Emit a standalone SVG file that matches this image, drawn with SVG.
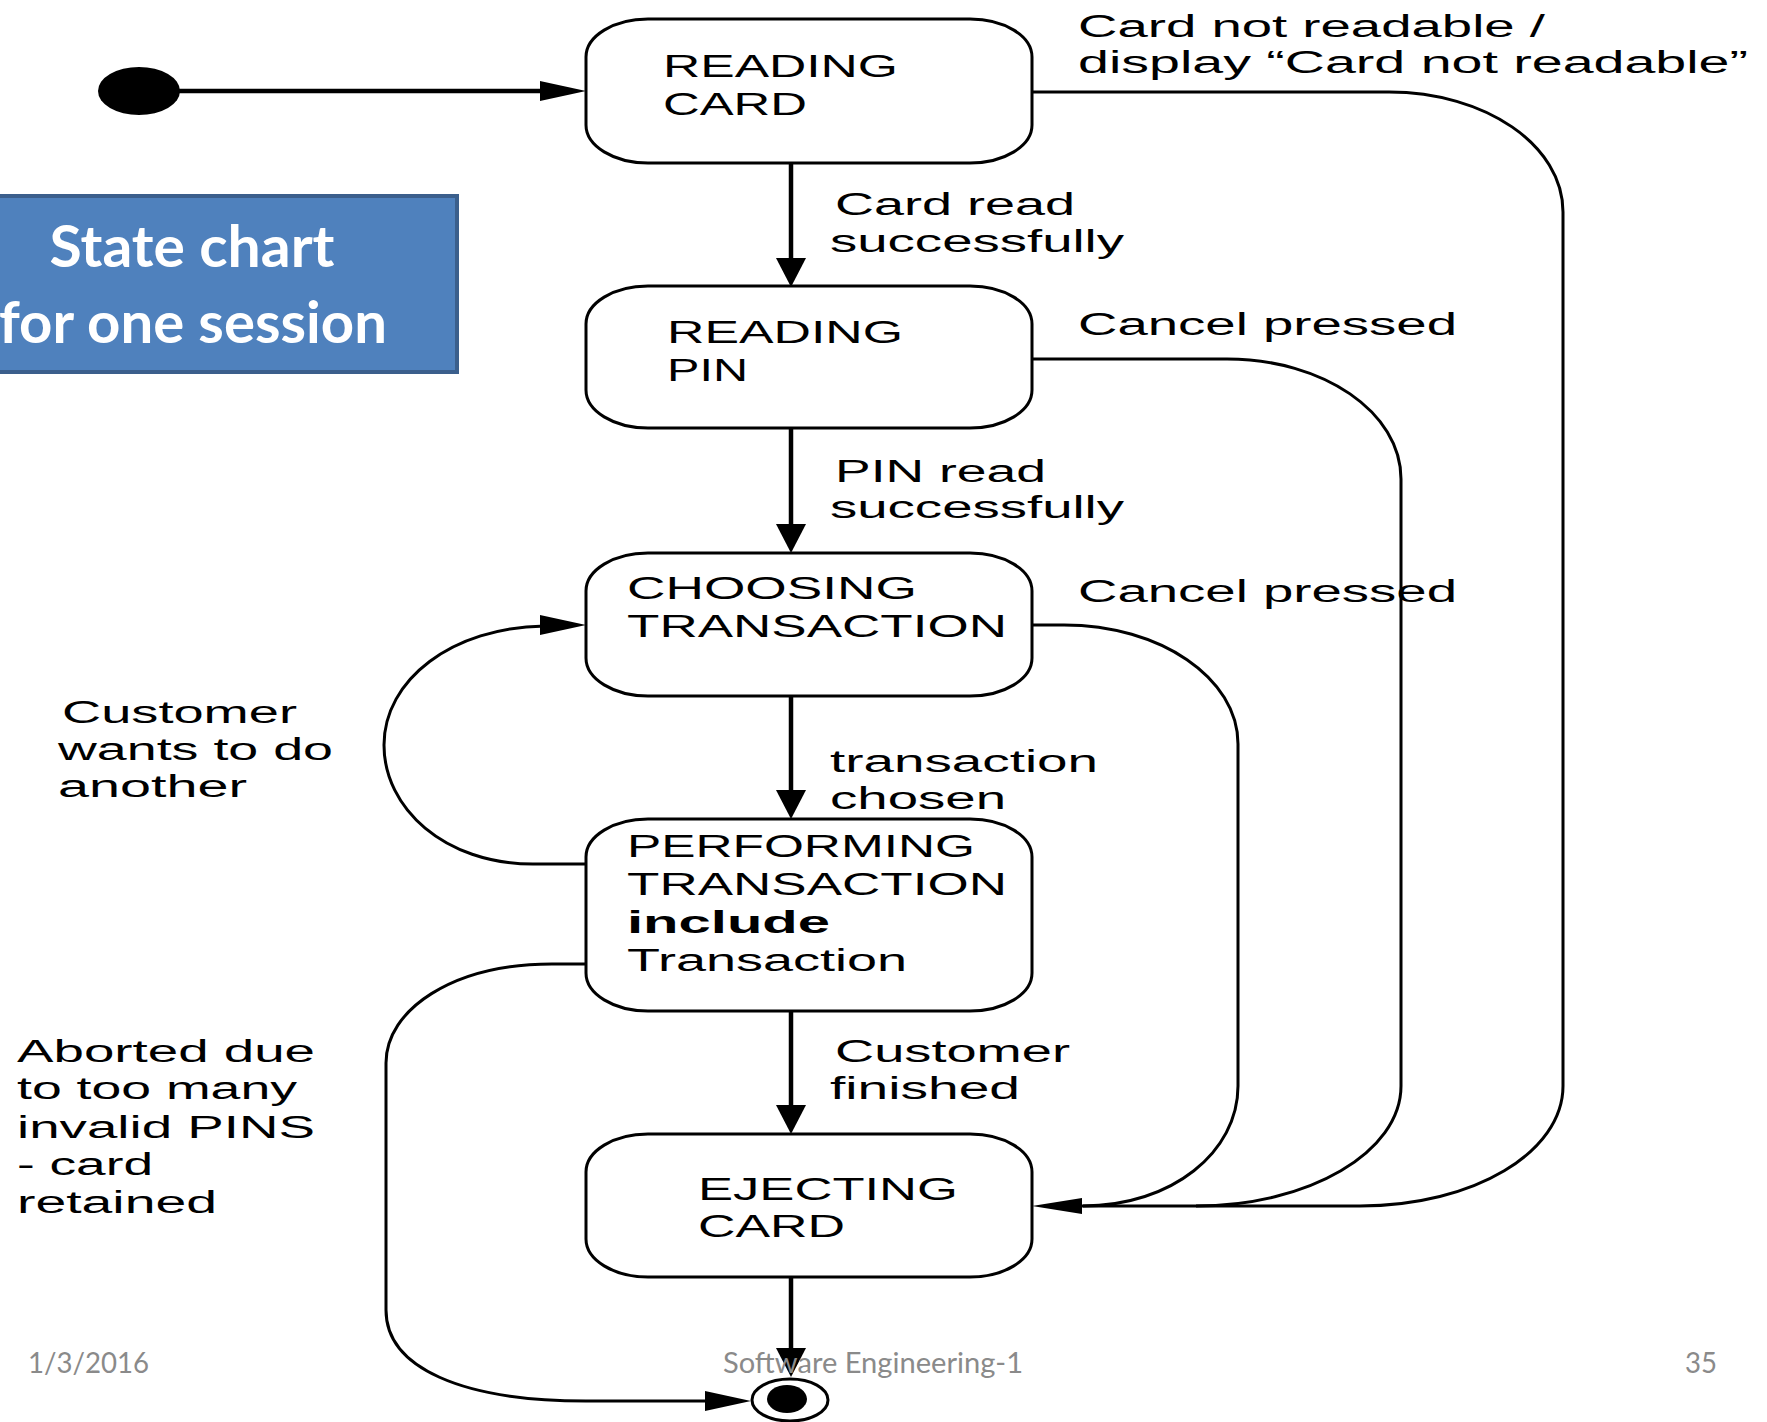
<svg xmlns="http://www.w3.org/2000/svg" xmlns:xlink="http://www.w3.org/1999/xlink" width="1767" height="1422" viewBox="0 0 1767 1422">
  <style>
    .state { fill: #ffffff; stroke: #000000; stroke-width: 3; }
    .name { font-family: "Liberation Sans", Arial, sans-serif; font-size: 31px; fill: #000000; }
    .bold { font-weight: bold; }
    .lbl { font-family: "Liberation Sans", Arial, sans-serif; font-size: 31px; fill: #000000; }
    .edge { fill: none; stroke: #000000; stroke-width: 3; }
    .trunk { fill: none; stroke: #000000; stroke-width: 4.5; }
    .head { fill: #000000; stroke: none; }
    .title { font-family: Lato, "Open Sans", sans-serif; font-weight: bold; font-size: 58px; fill: #ffffff; }
    .foot { font-family: Lato, "Open Sans", sans-serif; font-size: 28px; fill: #8a8a8a; }
  </style>
  <defs>
    <!-- arrowheads, tip at the origin -->
    <path id="headDown" d="M-15,-29 L15,-29 L0,0 Z"/>
    <path id="headRight" d="M-46,-10 L-46,10 L0,0 Z"/>
    <path id="headLeft" d="M50,-8 L50,8 L0,0 Z"/>
  </defs>

  <rect width="1767" height="1422" fill="#ffffff"/>

  <!-- title banner -->
  <g id="banner">
    <rect x="-10" y="196" width="467" height="176" fill="#4f81bd" stroke="#3b5f8c" stroke-width="4"/>
    <text class="title" x="192" y="267" text-anchor="middle" textLength="285" lengthAdjust="spacingAndGlyphs">State chart</text>
    <text class="title" x="193" y="343" text-anchor="middle" textLength="388" lengthAdjust="spacingAndGlyphs">for one session</text>
  </g>

  <!-- transitions -->
  <g id="connectors">
    <!-- start -> READING CARD -->
    <line class="trunk" x1="175" y1="91" x2="545" y2="91" stroke-width="3.5"/>
    <use href="#headRight" class="head" x="586" y="91"/>

    <!-- main vertical chain -->
    <line class="trunk" x1="791" y1="163" x2="791" y2="262"/>
    <use href="#headDown" class="head" x="791" y="287"/>
    <line class="trunk" x1="791" y1="428" x2="791" y2="528"/>
    <use href="#headDown" class="head" x="791" y="553"/>
    <line class="trunk" x1="791" y1="696" x2="791" y2="794"/>
    <use href="#headDown" class="head" x="791" y="819"/>
    <line class="trunk" x1="791" y1="1011" x2="791" y2="1109"/>
    <use href="#headDown" class="head" x="791" y="1134"/>
    <line class="trunk" x1="791" y1="1277" x2="791" y2="1352"/>
    <use href="#headDown" class="head" x="791" y="1377"/>

    <!-- Card not readable -> EJECTING CARD -->
    <path class="edge" d="M1032,92 L1389,92 C1485,92 1563,145 1563,212 L1563,1086 C1563,1152 1474,1206 1360,1206 L1080,1206"/>
    <!-- Cancel pressed (PIN) -> EJECTING CARD -->
    <path class="edge" d="M1032,359 L1227,359 C1323,359 1401,412 1401,479 L1401,1086 C1401,1152 1309,1206 1196,1206"/>
    <!-- Cancel pressed (choosing) -> EJECTING CARD -->
    <path class="edge" d="M1032,625 L1064,625 C1160,625 1238,678 1238,744 L1238,1086 C1238,1152 1172,1206 1083,1206"/>
    <use href="#headLeft" class="head" x="1032" y="1206"/>

    <!-- Customer wants to do another: PERFORMING -> CHOOSING -->
    <path class="edge" d="M586,864 L533,864 C444,864 384,808 384,745 C384,680 452,627 545,626"/>
    <use href="#headRight" class="head" x="586" y="625"/>

    <!-- Aborted: PERFORMING -> final -->
    <path class="edge" d="M586,964 L552,964 C452,964 386,1010 386,1063 L386,1310 C386,1368 462,1401 586,1401 L710,1401"/>
    <use href="#headRight" class="head" x="751" y="1401"/>
  </g>

  <!-- initial pseudo-state -->
  <g id="initial">
    <ellipse cx="139" cy="91" rx="41" ry="24" fill="#000000"/>
  </g>

  <g id="reading-card">
    <rect class="state" x="586" y="19" width="446" height="144" rx="62" ry="38"/>
    <text class="name" x="663" y="77" textLength="235" lengthAdjust="spacingAndGlyphs">READING</text>
    <text class="name" x="663" y="115" textLength="144" lengthAdjust="spacingAndGlyphs">CARD</text>
  </g>

  <g id="reading-pin">
    <rect class="state" x="586" y="286" width="446" height="142" rx="62" ry="38"/>
    <text class="name" x="667" y="343" textLength="236" lengthAdjust="spacingAndGlyphs">READING</text>
    <text class="name" x="667" y="381" textLength="81" lengthAdjust="spacingAndGlyphs">PIN</text>
  </g>

  <g id="choosing-transaction">
    <rect class="state" x="586" y="553" width="446" height="143" rx="62" ry="38"/>
    <text class="name" x="627" y="599" textLength="290" lengthAdjust="spacingAndGlyphs">CHOOSING</text>
    <text class="name" x="627" y="637" textLength="380" lengthAdjust="spacingAndGlyphs">TRANSACTION</text>
  </g>

  <g id="performing-transaction">
    <rect class="state" x="586" y="819" width="446" height="192" rx="62" ry="38"/>
    <text class="name" x="627" y="857" textLength="348" lengthAdjust="spacingAndGlyphs">PERFORMING</text>
    <text class="name" x="627" y="895" textLength="380" lengthAdjust="spacingAndGlyphs">TRANSACTION</text>
    <text class="name bold" x="627" y="933" textLength="203" lengthAdjust="spacingAndGlyphs">include</text>
    <text class="name" x="627" y="971" textLength="280" lengthAdjust="spacingAndGlyphs">Transaction</text>
  </g>

  <g id="ejecting-card">
    <rect class="state" x="586" y="1134" width="446" height="143" rx="62" ry="38"/>
    <text class="name" x="698" y="1200" textLength="260" lengthAdjust="spacingAndGlyphs">EJECTING</text>
    <text class="name" x="698" y="1237" textLength="147" lengthAdjust="spacingAndGlyphs">CARD</text>
  </g>

  <!-- final pseudo-state -->
  <g id="final">
    <ellipse cx="790" cy="1400" rx="38" ry="21" fill="#ffffff" stroke="#000000" stroke-width="3"/>
    <ellipse cx="787" cy="1399" rx="20" ry="14" fill="#000000"/>
  </g>

  <!-- transition labels -->
  <g id="labels">
    <text class="lbl" x="1078" y="37" textLength="467" lengthAdjust="spacingAndGlyphs">Card not readable /</text>
    <text class="lbl" x="1078" y="73" textLength="670" lengthAdjust="spacingAndGlyphs">display “Card not readable”</text>
    <text class="lbl" x="835" y="215" textLength="240" lengthAdjust="spacingAndGlyphs">Card read</text>
    <text class="lbl" x="830" y="252" textLength="294" lengthAdjust="spacingAndGlyphs">successfully</text>
    <text class="lbl" x="1078" y="335" textLength="379" lengthAdjust="spacingAndGlyphs">Cancel pressed</text>
    <text class="lbl" x="835" y="482" textLength="211" lengthAdjust="spacingAndGlyphs">PIN read</text>
    <text class="lbl" x="830" y="518" textLength="294" lengthAdjust="spacingAndGlyphs">successfully</text>
    <text class="lbl" x="1078" y="602" textLength="379" lengthAdjust="spacingAndGlyphs">Cancel pressed</text>
    <text class="lbl" x="830" y="772" textLength="268" lengthAdjust="spacingAndGlyphs">transaction</text>
    <text class="lbl" x="830" y="809" textLength="176" lengthAdjust="spacingAndGlyphs">chosen</text>
    <text class="lbl" x="835" y="1062" textLength="235" lengthAdjust="spacingAndGlyphs">Customer</text>
    <text class="lbl" x="830" y="1099" textLength="190" lengthAdjust="spacingAndGlyphs">finished</text>
    <text class="lbl" x="62" y="723" textLength="235" lengthAdjust="spacingAndGlyphs">Customer</text>
    <text class="lbl" x="58" y="760" textLength="275" lengthAdjust="spacingAndGlyphs">wants to do</text>
    <text class="lbl" x="58" y="797" textLength="189" lengthAdjust="spacingAndGlyphs">another</text>
    <text class="lbl" x="17" y="1062" textLength="298" lengthAdjust="spacingAndGlyphs">Aborted due</text>
    <text class="lbl" x="17" y="1099" textLength="280" lengthAdjust="spacingAndGlyphs">to too many</text>
    <text class="lbl" x="17" y="1138" textLength="298" lengthAdjust="spacingAndGlyphs">invalid PINS</text>
    <text class="lbl" x="17" y="1175" textLength="136" lengthAdjust="spacingAndGlyphs">- card</text>
    <text class="lbl" x="17" y="1213" textLength="200" lengthAdjust="spacingAndGlyphs">retained</text>
  </g>

  <!-- slide footer -->
  <g id="footer">
    <text class="foot" x="28" y="1373" textLength="121" lengthAdjust="spacingAndGlyphs">1/3/2016</text>
    <text class="foot" x="723" y="1373" textLength="300" lengthAdjust="spacingAndGlyphs">Software Engineering-1</text>
    <text class="foot" x="1685" y="1373" textLength="32" lengthAdjust="spacingAndGlyphs">35</text>
  </g>
</svg>
